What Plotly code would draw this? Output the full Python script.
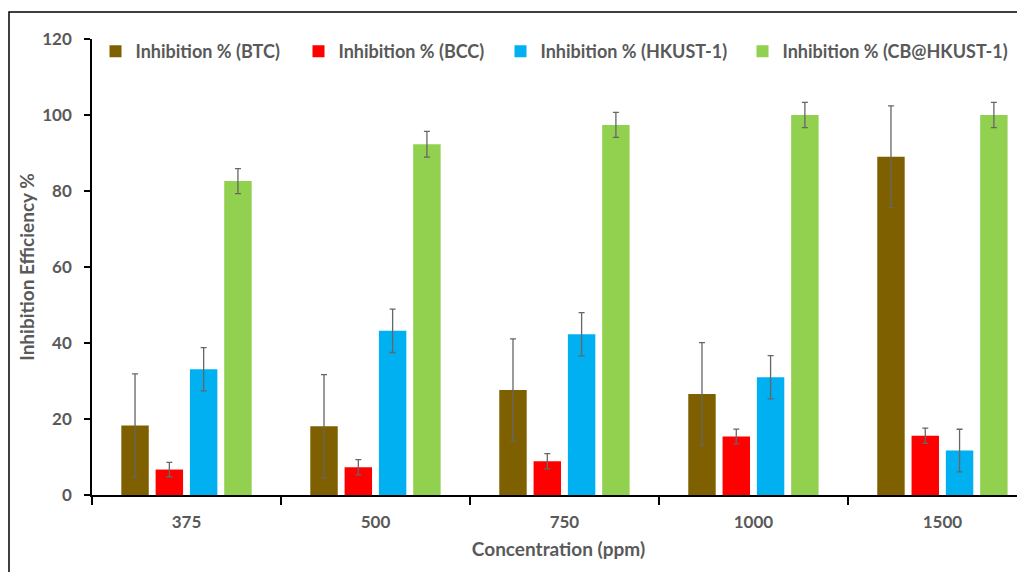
import plotly.graph_objects as go

categories = ["375", "500", "750", "1000", "1500"]
series_names = ["Inhibition % (BTC)", "Inhibition % (BCC)", "Inhibition % (HKUST-1)", "Inhibition % (CB@HKUST-1)"]
btc = [18.3, 18.1, 27.6, 26.6, 89.0]
bcc = [6.7, 7.3, 8.9, 15.4, 15.6]
hkust = [33.1, 43.2, 42.3, 31.0, 11.7]
cb_hkust = [82.6, 92.3, 97.4, 100.0, 100.0]
btc_err = [13.6, 13.6, 13.5, 13.5, 13.4]
bcc_err = [1.9, 2.0, 2.0, 1.95, 2.0]
hkust_err = [5.7, 5.7, 5.7, 5.7, 5.6]
cb_err = [3.3, 3.4, 3.3, 3.3, 3.3]
colors = ["#7F6000", "#FF0000", "#00B0F0", "#92D050"]
y_ticks = [0, 20, 40, 60, 80, 100, 120]

FONT = "Lato"
GRAY = "#595959"

W, H = 1017, 564
ML, MR, MT, MB = 84, 0, 31, 77
PW = W - ML - MR
PH = H - MT - MB

legend_ids = ["legend", "legend2", "legend3", "legend4"]
legend_left_px = [87.5, 290.5, 492.5, 734.5]

fig = go.Figure()
for name, vals, errs, col, lid in zip(series_names, [btc, bcc, hkust, cb_hkust],
                                      [btc_err, bcc_err, hkust_err, cb_err], colors, legend_ids):
    fig.add_trace(go.Bar(
        x=categories, y=vals, name=name, legend=lid,
        marker=dict(color=col, line=dict(width=0)),
        error_y=dict(type="data", array=errs, visible=True,
                     color="#666666", thickness=1.3, width=3),
    ))

legend_common = dict(orientation="h", xanchor="left",
                     yref="paper", y=1 + 6 / PH, yanchor="top",
                     font=dict(family=FONT, size=18, color=GRAY, weight="bold"),
                     bgcolor="rgba(0,0,0,0)", borderwidth=0)
legend_layout = {}
for lid, px in zip(legend_ids, legend_left_px):
    legend_layout[lid] = dict(legend_common, x=(px - ML) / PW)

fig.update_layout(
    width=W, height=H,
    margin=dict(l=ML, r=MR, t=MT, b=MB),
    paper_bgcolor="white", plot_bgcolor="white",
    barmode="group", bargap=0.274, bargroupgap=0.2,
    font=dict(family=FONT, color=GRAY, size=17),
    showlegend=True,
    **legend_layout,
    xaxis=dict(
        type="category", range=[-0.5, 4.437], automargin=False,
        showline=True, linecolor="black", linewidth=1.5,
        ticks="outside", tickson="boundaries", ticklen=8, tickcolor="black", tickwidth=1.5,
        ticklabelstandoff=11,
        showgrid=False, zeroline=False,
        tickfont=dict(family=FONT, size=17, color=GRAY, weight="bold"),
        title=dict(text="Concentration (ppm)", standoff=12,
                   font=dict(family=FONT, size=19, color=GRAY, weight="bold")),
    ),
    yaxis=dict(
        range=[0, 120], tickvals=y_ticks, automargin=False,
        showline=True, linecolor="black", linewidth=1.5,
        ticks="outside", ticklen=6, tickcolor="black", tickwidth=1.5,
        ticklabelstandoff=9,
        showgrid=False, zeroline=False,
        tickfont=dict(family=FONT, size=17, color=GRAY, weight="bold"),
        title=dict(text="Inhibition Efficiency %", standoff=3,
                   font=dict(family=FONT, size=19, color=GRAY, weight="bold")),
    ),
    shapes=[dict(type="rect", xref="paper", yref="paper",
                 x0=(1 - ML) / PW, x1=1.2, y0=-0.4, y1=(PH + MT - 4) / PH,
                 line=dict(color="black", width=1.5), fillcolor="rgba(0,0,0,0)", layer="below")],
)

fig.write_html("out.html")
